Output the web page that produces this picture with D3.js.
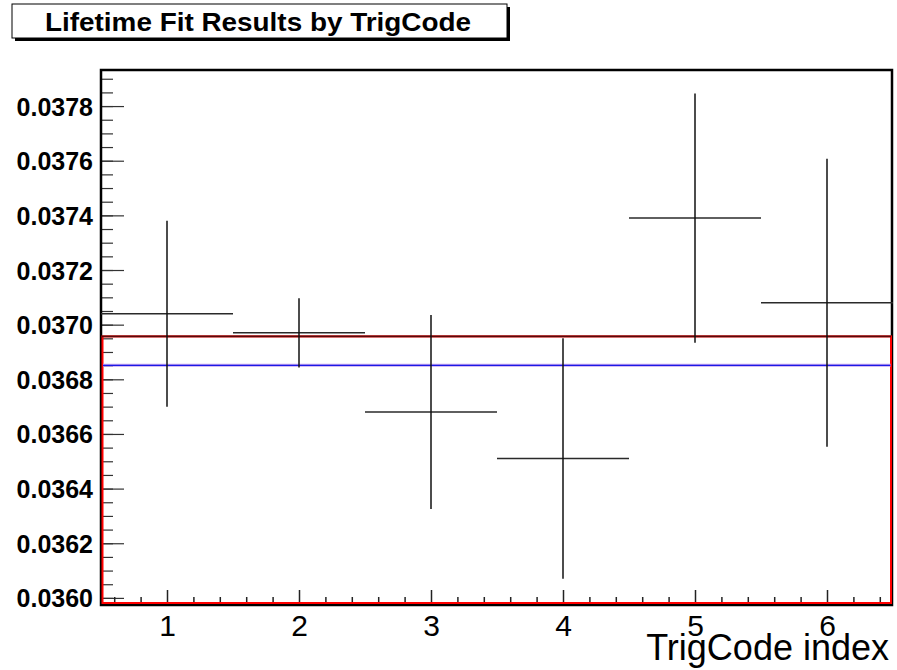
<!DOCTYPE html>
<html>
<head>
<meta charset="utf-8">
<script src="https://cdn.jsdelivr.net/npm/d3@7"></script>
<style>
  body { margin: 0; background: #fff; }
  svg { display: block; font-family: "Liberation Sans", Arial, sans-serif; }
</style>
</head>
<body>
<div id="chart"></div>
<script>
// fit results per trigger code
const trigCodes = [1, 2, 3, 4, 5, 6];
const lifetimes = [0.03704, 0.03697, 0.03668, 0.03651, 0.03739, 0.03708];
const lifetimeErrs = [0.00034, 0.000127, 0.000355, 0.00044, 0.000456, 0.000527];
const binHalfWidth = 0.5;

// reference levels
const combinedFit = 0.036957; // dark red line / top of red box
const referenceValue = 0.036851; // blue line

const titleText = "Lifetime Fit Results by TrigCode";
const xTitle = "TrigCode index";

const width = 897, height = 670;
const plot = { left: 101, right: 893, top: 70, bottom: 605 };

const svg = d3.select('#chart').append('svg')
  .attr('width', width)
  .attr('height', height);

const x = d3.scaleLinear().domain([0.5, 6.5]).range([plot.left, plot.right]);
const y = d3.scaleLinear().domain([0.035974, 0.037932]).range([plot.bottom, plot.top]);

// title box with shadow
svg.append('rect').attr('x', 15).attr('y', 7).attr('width', 495).attr('height', 34).attr('fill', '#000');
svg.append('rect').attr('x', 12).attr('y', 4).attr('width', 495).attr('height', 34)
  .attr('fill', '#fff').attr('stroke', '#000').attr('stroke-width', 1);
svg.append('text')
  .attr('x', 258).attr('y', 31)
  .attr('text-anchor', 'middle')
  .attr('textLength', 426).attr('lengthAdjust', 'spacingAndGlyphs')
  .style('font-size', '25px').style('font-weight', 'bold')
  .text(titleText);

// minor y ticks
const yMinor = d3.range(0.0360, 0.03794, 0.00005).filter(v => v <= y.domain()[1]);
svg.append('g')
  .attr('transform', `translate(${plot.left},0)`)
  .call(d3.axisLeft(y).tickValues(yMinor).tickSize(-12).tickFormat(''))
  .call(g => g.select('.domain').remove())
  .call(g => g.selectAll('line').attr('stroke', '#333').attr('stroke-width', 1.2));

// major y ticks + labels
const yMajor = d3.range(0.0360, 0.03781, 0.0002);
svg.append('g')
  .attr('transform', `translate(${plot.left},0)`)
  .call(d3.axisLeft(y).tickValues(yMajor).tickSize(-23).tickPadding(8).tickFormat(d3.format('.4f')))
  .call(g => g.select('.domain').remove())
  .call(g => g.selectAll('line').attr('stroke', '#333').attr('stroke-width', 1.2))
  .call(g => g.selectAll('text')
    .attr('fill', '#000')
    .attr('dy', '0.36em')
    .style('font-size', '25px').style('font-weight', 'bold')
    .style('font-family', '"Liberation Sans", Arial, sans-serif'));

// minor x ticks
const xMinor = d3.range(0.6, 6.45, 0.2).map(v => +v.toFixed(1)).filter(v => Math.abs(v - Math.round(v)) > 0.01);
svg.append('g')
  .attr('transform', `translate(0,${plot.bottom})`)
  .call(d3.axisBottom(x).tickValues(xMinor).tickSize(-8).tickFormat(''))
  .call(g => g.select('.domain').remove())
  .call(g => g.selectAll('line').attr('stroke', '#222').attr('stroke-width', 1.5));

// major x ticks + labels
svg.append('g')
  .attr('transform', `translate(0,${plot.bottom})`)
  .call(d3.axisBottom(x).tickValues(trigCodes).tickSize(-15).tickPadding(4).tickFormat(d3.format('d')))
  .call(g => g.select('.domain').remove())
  .call(g => g.selectAll('line').attr('stroke', '#222').attr('stroke-width', 1.5))
  .call(g => g.selectAll('text')
    .attr('fill', '#000')
    .attr('y', 31).attr('dy', null)
    .style('font-size', '30px')
    .style('font-family', '"Liberation Sans", Arial, sans-serif'));

// x axis title
svg.append('text')
  .attr('x', 889).attr('y', 660)
  .attr('text-anchor', 'end')
  .style('font-size', '36px')
  .text(xTitle);

// frame
svg.append('rect')
  .attr('x', plot.left).attr('y', plot.top)
  .attr('width', plot.right - plot.left - 1).attr('height', plot.bottom - plot.top)
  .attr('fill', 'none').attr('stroke', '#000').attr('stroke-width', 2.5);

// red box below combined fit
svg.append('rect')
  .attr('x', plot.left + 1.5).attr('y', y(combinedFit))
  .attr('width', plot.right - plot.left - 3.5).attr('height', plot.bottom - 2 - y(combinedFit))
  .attr('fill', 'none').attr('stroke', '#ff0000').attr('stroke-width', 2);

svg.append('line')
  .attr('x1', plot.left + 1).attr('x2', plot.right - 2)
  .attr('y1', y(combinedFit)).attr('y2', y(combinedFit))
  .attr('stroke', '#5a0808').attr('stroke-width', 1.6);

// blue reference line
svg.append('line')
  .attr('x1', plot.left + 2).attr('x2', plot.right - 2.5)
  .attr('y1', y(referenceValue)).attr('y2', y(referenceValue))
  .attr('stroke', '#c8a6ef').attr('stroke-width', 3);
svg.append('line')
  .attr('x1', plot.left + 2).attr('x2', plot.right - 2.5)
  .attr('y1', y(referenceValue)).attr('y2', y(referenceValue))
  .attr('stroke', '#1a1ae6').attr('stroke-width', 1.4);

// data points with error bars
const pts = trigCodes.map((c, i) => ({ code: c, val: lifetimes[i], err: lifetimeErrs[i] }));
const marks = svg.append('g');
marks.selectAll('.hbar').data(pts).enter().append('line')
  .attr('class', 'hbar')
  .attr('x1', d => x(d.code - binHalfWidth)).attr('x2', d => x(d.code + binHalfWidth))
  .attr('y1', d => y(d.val)).attr('y2', d => y(d.val))
  .attr('stroke', '#2a2a2a').attr('stroke-width', 1.5);
marks.selectAll('.vbar').data(pts).enter().append('line')
  .attr('class', 'vbar')
  .attr('x1', d => x(d.code)).attr('x2', d => x(d.code))
  .attr('y1', d => y(d.val + d.err)).attr('y2', d => y(d.val - d.err))
  .attr('stroke', '#111').attr('stroke-width', 1.5);
</script>
</body>
</html>
